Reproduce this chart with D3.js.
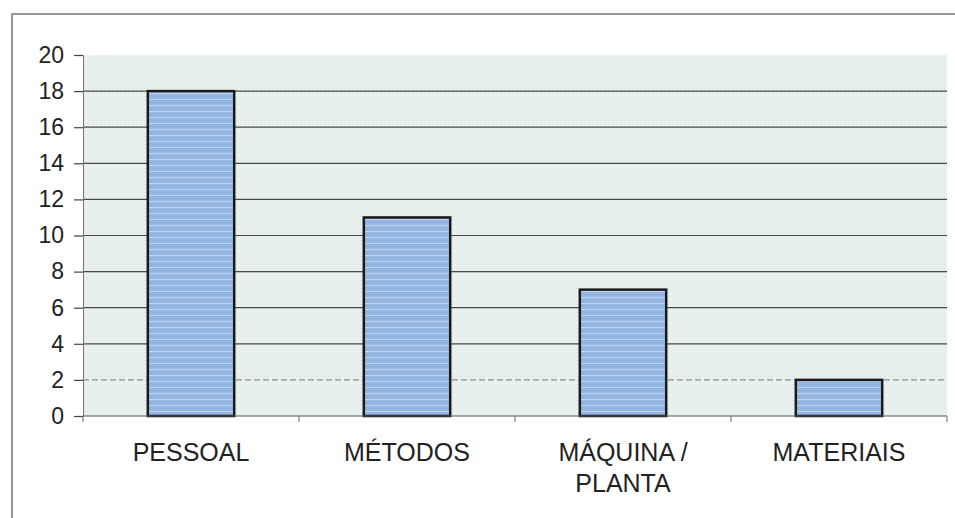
<!DOCTYPE html>
<html>
<head>
<meta charset="utf-8">
<script src="https://cdn.jsdelivr.net/npm/d3@7"></script>
<style>
    body { margin: 0; background: #fff; }
    text { font-family: "Liberation Sans", Arial, sans-serif; fill: #222; }
</style>
</head>
<body>
<svg id="chart" width="955" height="518"></svg>
<script>
var categories = [
    ["PESSOAL"],
    ["MÉTODOS"],
    ["MÁQUINA /", "PLANTA"],
    ["MATERIAIS"],
    ];
var values = [18, 11, 7, 2];
var yTicks = [0, 2, 4, 6, 8, 10, 12, 14, 16, 18, 20];

var svg = d3.select("#chart");
var plot = {left: 83, right: 947, top: 55, bottom: 416};

function chart_defs() {
    var defs = svg.append("defs");
    var bg = defs.append("pattern")
        .attr("id", "bgfill")
        .attr("width", 4).attr("height", 4)
        .attr("patternUnits", "userSpaceOnUse");
    bg.append("rect").attr("width", 4).attr("height", 4).attr("fill", "#eaf2ef");
    bg.append("rect").attr("x", 0).attr("y", 0).attr("width", 1).attr("height", 1).attr("fill", "#cddbd3");
    bg.append("rect").attr("x", 2).attr("y", 2).attr("width", 1).attr("height", 1).attr("fill", "#d3e5ea");
    var bar = defs.append("pattern")
        .attr("id", "barfill")
        .attr("width", 4).attr("height", 6)
        .attr("patternUnits", "userSpaceOnUse");
    bar.append("rect").attr("width", 4).attr("height", 6).attr("fill", "#95b6e2");
    bar.append("rect").attr("y", 3).attr("width", 4).attr("height", 1).attr("fill", "#bed3f0");
    bar.append("rect").attr("x", 1).attr("y", 0).attr("width", 1).attr("height", 1).attr("fill", "#7fa3d6");
}

function chart_draw() {
    var x = d3.scaleBand()
        .domain(d3.range(categories.length))
        .range([plot.left, plot.right])
        .paddingInner(0.6)
        .paddingOuter(0.3);
    var y = d3.scaleLinear()
        .domain([0, 20])
        .range([plot.bottom, plot.top]);
    var step = (plot.right - plot.left) / categories.length;

    // outer frame
    svg.append("rect")
        .attr("x", 12).attr("y", 14)
        .attr("width", 960).attr("height", 530)
        .attr("fill", "none")
        .attr("stroke", "#555")
        .attr("stroke-width", 1.2);

    svg.append("rect")
        .attr("x", plot.left).attr("y", plot.top)
        .attr("width", plot.right - plot.left)
        .attr("height", plot.bottom - plot.top)
        .attr("fill", "url(#bgfill)");

    // gridlines
    svg.append("g").selectAll("line")
        .data(yTicks.filter(function(d) { return d > 0 && d < 20; }))
        .join("line")
        .attr("x1", plot.left).attr("x2", plot.right)
        .attr("y1", function(d) { return y(d); })
        .attr("y2", function(d) { return y(d); })
        .attr("stroke", function(d) { return d == 2 ? "#8a8f8a" : "#4a4a4a"; })
        .attr("stroke-dasharray", function(d) { return d == 2 ? "6,3" : null; })
        .attr("stroke-width", 1.2);

    // y axis
    var yAxis = svg.append("g")
        .attr("transform", "translate(" + plot.left + ",0)")
        .call(d3.axisLeft(y).tickValues(yTicks).tickSize(9).tickPadding(10));
    yAxis.select(".domain").attr("stroke", "#777").attr("stroke-width", 1);
    yAxis.selectAll(".tick line").attr("stroke", "#444").attr("stroke-width", 1.2);
    yAxis.selectAll(".tick text")
        .attr("font-size", 23)
        .attr("fill", "#222")
        .style("font-family", "'Liberation Sans', Arial, sans-serif");

    // bars
    svg.append("g").selectAll("rect")
        .data(values)
        .join("rect")
        .attr("x", function(d, i) { return x(i); })
        .attr("y", function(d) { return y(d); })
        .attr("width", x.bandwidth())
        .attr("height", function(d) { return y(0) - y(d); })
        .attr("fill", "url(#barfill)")
        .attr("stroke", "#1a1a1a")
        .attr("stroke-width", 2.5);

    // x axis baseline and category ticks
    svg.append("line")
        .attr("x1", plot.left).attr("x2", plot.right)
        .attr("y1", y(0)).attr("y2", y(0))
        .attr("stroke", "#555").attr("stroke-width", 1.2);
    svg.append("g").selectAll("line")
        .data(d3.range(categories.length + 1))
        .join("line")
        .attr("x1", function(i) { return plot.left + i * step; })
        .attr("x2", function(i) { return plot.left + i * step; })
        .attr("y1", y(0)).attr("y2", y(0) + 6)
        .attr("stroke", "#666").attr("stroke-width", 1);

    // category labels
    var labels = svg.append("g").selectAll("text")
        .data(categories)
        .join("text")
        .attr("x", function(d, i) { return x(i) + x.bandwidth() / 2; })
        .attr("y", 461)
        .attr("text-anchor", "middle")
        .attr("font-size", 25);
    labels.selectAll("tspan")
        .data(function(d) { return d; })
        .join("tspan")
        .attr("x", function() { return d3.select(this.parentNode).attr("x"); })
        .attr("dy", function(d, i) { return i == 0 ? 0 : 31; })
        .text(function(d) { return d; });
}

chart_defs();
chart_draw();
</script>
</body>
</html>
